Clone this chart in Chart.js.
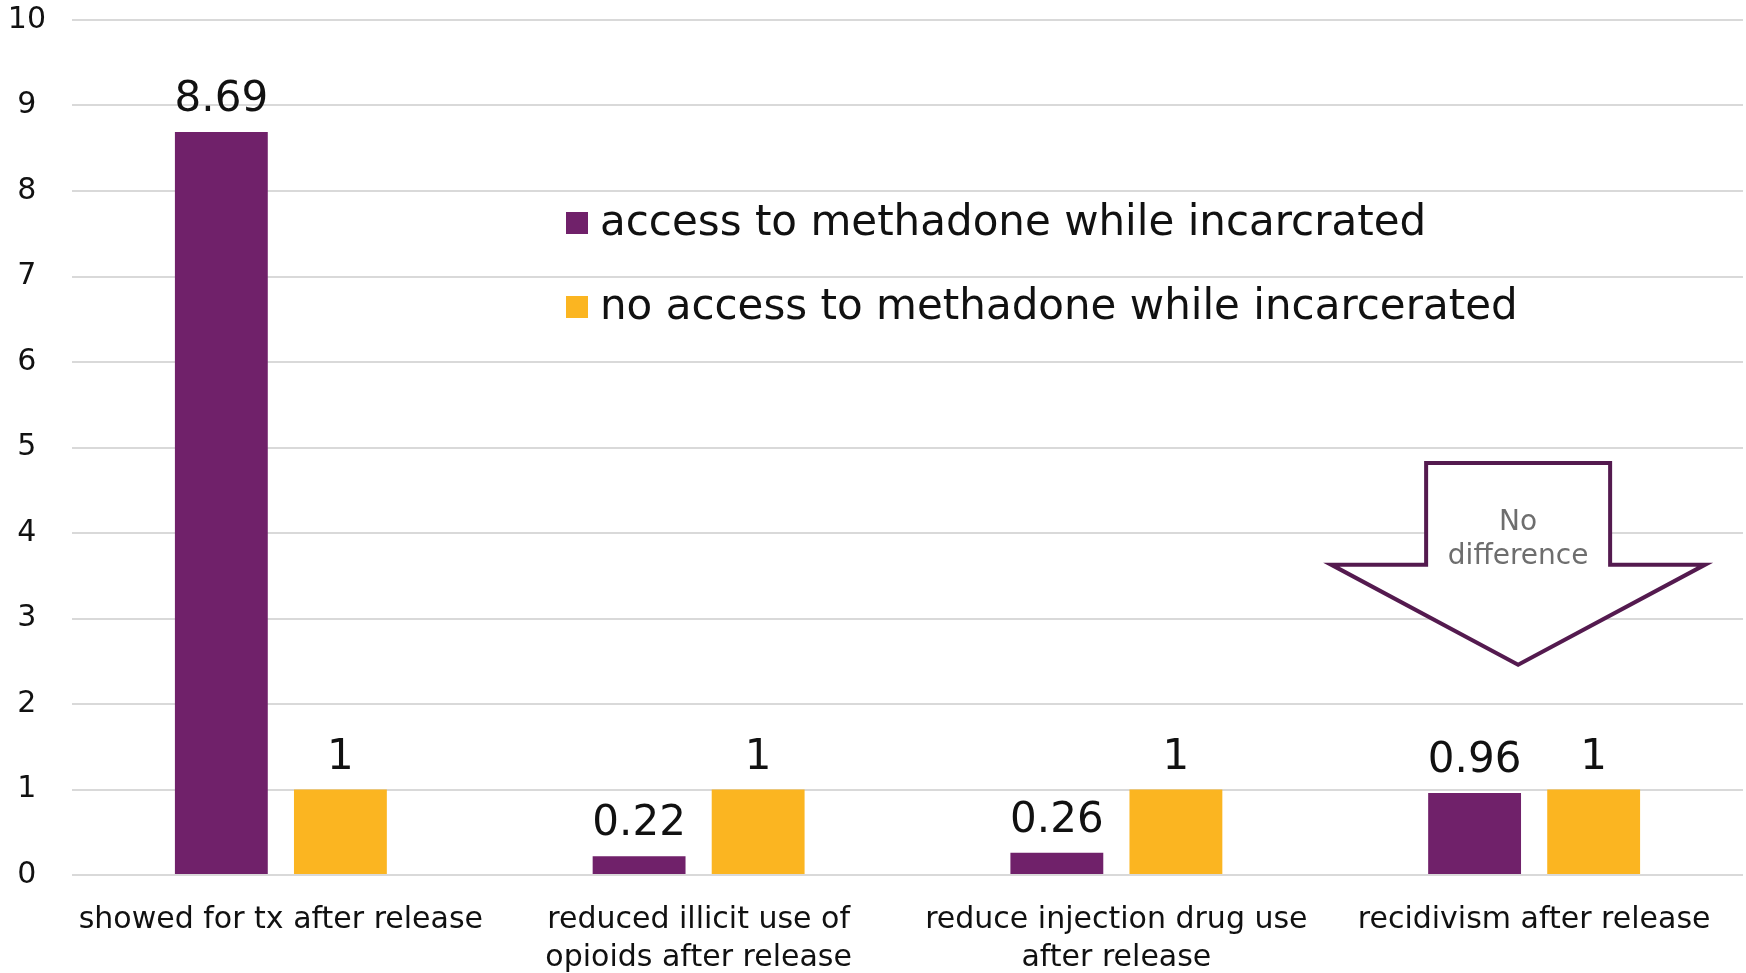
<!DOCTYPE html>
<html>
<head>
<meta charset="utf-8">
<script src="https://cdn.jsdelivr.net/npm/chart.js@4.4.1/dist/chart.umd.min.js"></script>
<style>
    html, body { margin: 0; padding: 0; background: #fff; }
    #wrap { width: 1746px; height: 973px; }
</style>
</head>
<body>
<div id="wrap"><canvas id="outcomesChart"></canvas></div>
<script>
const categories = [
    'showed for tx after release',
    ['reduced illicit use of', 'opioids after release'],
    ['reduce injection drug use', 'after release'],
    'recidivism after release'
];
const seriesNames = [
    'access to methadone while incarcrated',
    'no access to methadone while incarcerated'
];
const withMethadone = [8.69, 0.22, 0.26, 0.96];
const withoutMethadone = [1, 1, 1, 1];
const seriesColors = ['#70216a', '#fbb521'];
const yMin = 0;
const yMax = 10;
const yStep = 1;
const calloutLines = ['No', 'difference'];

const FONT = '"DejaVu Sans", sans-serif';

// numbers sitting on top of each bar
const valueLabels = {
    id: 'valueLabels',
    afterDatasetsDraw(chart) {
        const ctx = chart.ctx;
        ctx.save();
        ctx.font = '42px ' + FONT;
        ctx.fillStyle = '#111';
        ctx.textAlign = 'center';
        ctx.textBaseline = 'alphabetic';
        chart.data.datasets.forEach((ds, i) => {
            chart.getDatasetMeta(i).data.forEach((bar, j) => {
                ctx.fillText(String(ds.data[j]), bar.x, bar.y - 21);
            });
        });
        ctx.restore();
    }
};

// legend drawn inside the plot area
const insideLegend = {
    id: 'insideLegend',
    afterDraw(chart) {
        const ctx = chart.ctx;
        const area = chart.chartArea;
        const x0 = area.left + 494;
        const rows = [area.top + 203, area.top + 287];
        ctx.save();
        ctx.font = '42px ' + FONT;
        ctx.textBaseline = 'middle';
        chart.data.datasets.forEach((ds, i) => {
            ctx.fillStyle = ds.backgroundColor;
            ctx.fillRect(x0, rows[i] - 11, 22, 22);
            ctx.fillStyle = '#111';
            ctx.fillText(ds.label, x0 + 34, rows[i] + 1);
        });
        ctx.restore();
    }
};

// outlined down arrow over the last group
const calloutArrow = {
    id: 'calloutArrow',
    afterDatasetsDraw(chart) {
        const ctx = chart.ctx;
        const xs = chart.scales.x;
        const ys = chart.scales.y;
        const cx = xs.getPixelForValue(3) - 16;
        const top = ys.getPixelForValue(4.82);
        const wing = ys.getPixelForValue(3.63);
        const tip = ys.getPixelForValue(2.46);
        const shaft = 92;
        const head = 187;
        ctx.save();
        ctx.beginPath();
        ctx.moveTo(cx - shaft, top);
        ctx.lineTo(cx + shaft, top);
        ctx.lineTo(cx + shaft, wing);
        ctx.lineTo(cx + head, wing);
        ctx.lineTo(cx, tip);
        ctx.lineTo(cx - head, wing);
        ctx.lineTo(cx - shaft, wing);
        ctx.closePath();
        ctx.fillStyle = '#fff';
        ctx.fill();
        ctx.lineWidth = 4;
        ctx.lineJoin = 'miter';
        ctx.strokeStyle = '#541a4f';
        ctx.stroke();
        ctx.font = '28px ' + FONT;
        ctx.fillStyle = '#6e6e6e';
        ctx.textAlign = 'center';
        ctx.textBaseline = 'middle';
        ctx.fillText(calloutLines[0], cx, ys.getPixelForValue(4.12));
        ctx.fillText(calloutLines[1], cx, ys.getPixelForValue(3.72));
        ctx.restore();
    }
};

const ctx = document.getElementById('outcomesChart').getContext('2d');
new Chart(ctx, {
    type: 'bar',
    data: {
        labels: categories,
        datasets: [
            {
                label: seriesNames[0],
                data: withMethadone,
                backgroundColor: seriesColors[0],
                categoryPercentage: 0.57,
                barPercentage: 0.78
            },
            {
                label: seriesNames[1],
                data: withoutMethadone,
                backgroundColor: seriesColors[1],
                categoryPercentage: 0.57,
                barPercentage: 0.78
            }
        ]
    },
    options: {
        responsive: true,
        maintainAspectRatio: false,
        animation: false,
        layout: { padding: { top: 0, right: 3, left: 0, bottom: 0 } },
        plugins: {
            legend: { display: false },
            tooltip: { enabled: false }
        },
        scales: {
            x: {
                grid: { display: false, drawTicks: false },
                border: { display: false },
                ticks: {
                    color: '#111',
                    font: { family: FONT, size: 30, lineHeight: 1.24 },
                    padding: 27,
                    maxRotation: 0,
                    autoSkip: false
                },
                afterFit(scale) { scale.height = 98; }
            },
            y: {
                min: yMin,
                max: yMax,
                grid: { color: '#d9d9d9', lineWidth: 2, drawTicks: false },
                border: { display: false },
                ticks: {
                    stepSize: yStep,
                    color: '#111',
                    font: { family: FONT, size: 30 },
                    crossAlign: 'center',
                    padding: 26
                },
                afterFit(scale) {
                    scale.width = 72;
                    scale.paddingTop = 20;
                }
            }
        }
    },
    plugins: [valueLabels, calloutArrow, insideLegend]
});
</script>
</body>
</html>
